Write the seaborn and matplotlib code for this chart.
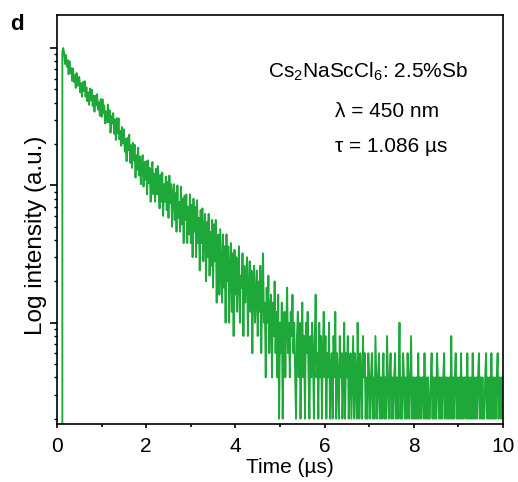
import numpy as np
import matplotlib
matplotlib.use("Agg")
import matplotlib.pyplot as plt
import seaborn as sns
from matplotlib.ticker import LogLocator, MultipleLocator, NullFormatter

# photon counts per channel (channel width 0.02 us)
channel_width = 0.02
counts = [
    0, 0, 0, 0, 0, 0, 470, 500, 461, 383, 445, 366, 407, 322, 401, 329, 357, 288, 356, 284, 317, 256, 329, 265, 306,
    308, 238, 277, 221, 282, 242, 287, 221, 259, 205, 238, 193, 254, 207, 249, 190, 225, 172, 225, 191, 231, 178, 201, 161, 212,
    158, 212, 168, 191, 141, 173, 144, 194, 144, 176, 121, 160, 141, 168, 119, 151, 107, 154, 119, 154, 108, 125, 97, 133, 101,
    128, 88, 109, 75, 111, 90, 117, 73, 98, 67, 102, 76, 99, 57, 83, 65, 94, 59, 81, 51, 72, 83, 49, 74, 55,
    75, 43, 76, 52, 67, 38, 61, 74, 43, 61, 38, 66, 43, 69, 46, 34, 60, 38, 62, 30, 51, 38, 58, 33, 53,
    29, 59, 37, 51, 25, 44, 51, 28, 44, 23, 50, 29, 38, 23, 49, 26, 40, 19, 42, 28, 43, 19, 35, 22, 43,
    19, 36, 15, 40, 23, 35, 15, 39, 19, 29, 12, 33, 19, 34, 14, 24, 31, 10, 27, 15, 31, 11, 23, 13, 28,
    9, 26, 14, 28, 7, 19, 22, 8, 24, 13, 7, 22, 9, 18, 5, 22, 10, 18, 5, 13, 19, 6, 16, 4, 17,
    8, 15, 6, 12, 18, 5, 11, 9, 16, 4, 13, 7, 10, 15, 4, 9, 14, 6, 12, 3, 10, 13, 5, 8, 12,
    4, 10, 6, 13, 3, 8, 16, 5, 7, 2, 9, 5, 11, 3, 6, 8, 2, 7, 4, 10, 3, 6, 2, 8, 1,
    5, 3, 7, 1, 4, 6, 2, 5, 9, 3, 5, 2, 6, 4, 8, 3, 5, 2, 1, 4, 6, 2, 5, 1, 3,
    7, 2, 4, 1, 5, 3, 6, 2, 1, 4, 2, 5, 3, 1, 4, 8, 2, 3, 1, 5, 2, 4, 1, 3, 6,
    2, 4, 1, 3, 2, 5, 1, 2, 3, 1, 4, 2, 6, 1, 3, 2, 1, 4, 2, 3, 1, 2, 5, 1, 3,
    2, 4, 1, 2, 3, 1, 2, 4, 1, 3, 2, 1, 5, 2, 1, 3, 2, 1, 4, 2, 3, 1, 2, 1, 3,
    2, 1, 2, 3, 1, 2, 1, 4, 2, 1, 2, 3, 1, 2, 1, 2, 3, 1, 2, 1, 4, 2, 1, 2, 3,
    1, 2, 1, 2, 3, 1, 2, 1, 2, 5, 1, 2, 1, 3, 2, 1, 2, 1, 3, 2, 1, 2, 4, 1, 2,
    1, 2, 1, 2, 1, 3, 1, 2, 1, 2, 2, 1, 3, 1, 2, 1, 2, 1, 1, 2, 3, 1, 2, 1, 2,
    1, 3, 2, 1, 2, 1, 2, 1, 2, 3, 1, 2, 1, 2, 1, 2, 1, 4, 1, 2, 1, 2, 3, 1, 2,
    1, 2, 1, 3, 1, 2, 1, 2, 2, 1, 3, 1, 2, 1, 2, 1, 3, 1, 2, 1, 2, 1, 2, 3, 1,
    2, 1, 2, 1, 1, 2, 3, 1, 2, 1, 2, 1, 3, 1, 2, 1, 2, 1, 2, 3, 1, 2, 1, 2, 1,
    2,
]
x_ticks = [0, 2, 4, 6, 8, 10]
sample_text = r"Cs$\mathregular{_2}$NaScCl$\mathregular{_6}$: 2.5%Sb"
wavelength_text = "λ = 450 nm"
lifetime_text = "τ = 1.086 µs"

counts = np.array(counts, dtype=float)
time_us = np.arange(len(counts)) * channel_width
intensity = counts / counts.max()

sns.set_theme(style="ticks")
plt.rcParams['font.family'] = ['Liberation Sans', 'DejaVu Sans']
plt.rcParams['mathtext.fontset'] = 'custom'
plt.rcParams['mathtext.rm'] = 'Liberation Sans'
for key in ['text.color', 'axes.labelcolor', 'xtick.color', 'ytick.color']:
    plt.rcParams[key] = 'black'

W, H = 518, 482
fig = plt.figure(figsize=(W / 100, H / 100), dpi=100)
ax = fig.add_axes([57 / W, 1 - 424 / H, (503 - 57) / W, (424 - 15) / H])

sns.lineplot(x=time_us, y=intensity, ax=ax, color='#1fa83a', linewidth=1.35,
             estimator=None, sort=False)
ax.set_yscale('log')
ax.set_xlim(0, 10)
ax.set_ylim(0.00183, 1.74)

ax.set_xticks(x_ticks)
ax.xaxis.set_minor_locator(MultipleLocator(1))
ax.yaxis.set_major_locator(LogLocator(base=10))
ax.yaxis.set_minor_locator(LogLocator(base=10, subs=np.arange(2, 10)))
ax.yaxis.set_major_formatter(NullFormatter())
ax.yaxis.set_minor_formatter(NullFormatter())

for s in ax.spines.values():
    s.set_linewidth(1.2)
    s.set_color('black')
ax.tick_params(axis='x', which='major', direction='out', length=3, width=1.2,
               labelsize=15, pad=6)
ax.tick_params(axis='x', which='minor', direction='out', length=2, width=1.2)
ax.tick_params(axis='y', which='major', direction='out', length=5, width=1.2)
ax.tick_params(axis='y', which='minor', direction='out', length=2.5, width=1.0)

ax.set_xlabel('Time (µs)', fontsize=15)
ax.xaxis.set_label_coords(0.522, -0.083)
ax.set_ylabel('Log intensity (a.u.)', fontsize=17.5)
ax.yaxis.set_label_coords(-0.022, 0.462)

fig.text(10 / W, 1 - 30 / H, 'd', fontsize=16, fontweight='bold', va='baseline')
fig.text(268 / W, 1 - 78 / H, sample_text, fontsize=15, va='baseline')
fig.text(335 / W, 1 - 117 / H, wavelength_text, fontsize=15, va='baseline')
fig.text(335 / W, 1 - 152 / H, lifetime_text, fontsize=15, va='baseline')

fig.savefig('out.png', dpi=100)
